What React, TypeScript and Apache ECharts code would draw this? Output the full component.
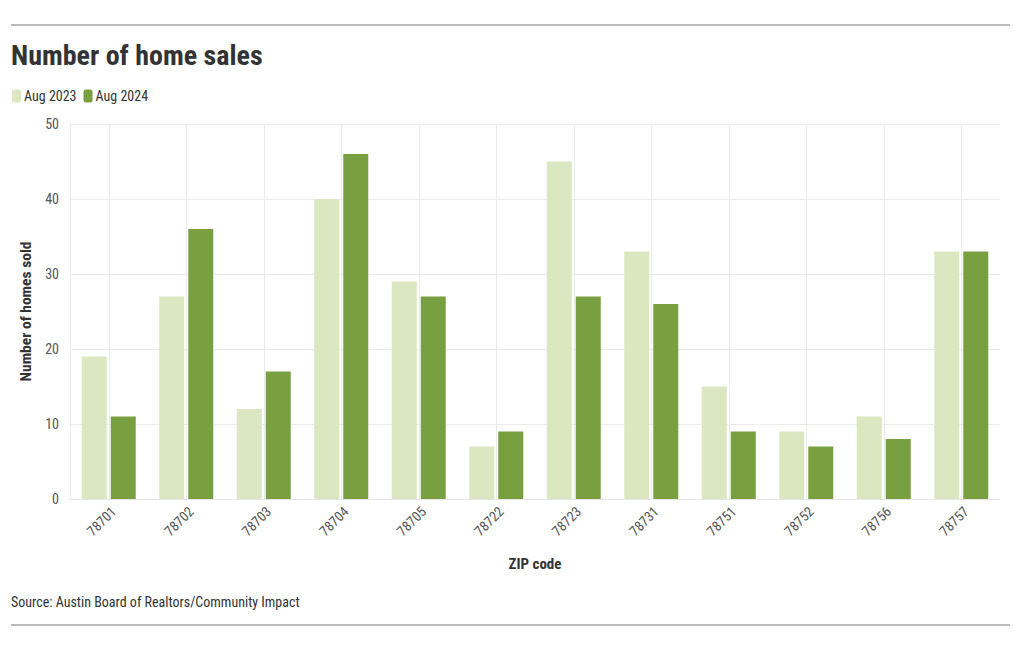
import React, { useEffect, useRef } from "react";
import * as echarts from "echarts";

const zipCodes = ["78701", "78702", "78703", "78704", "78705", "78722", "78723", "78731", "78751", "78752", "78756", "78757"];
const aug2023 = [19, 27, 12, 40, 29, 7, 45, 33, 15, 9, 11, 33];
const aug2024 = [11, 36, 17, 46, 27, 9, 27, 26, 9, 7, 8, 33];
const seriesNames = ["Aug 2023", "Aug 2024"];
const yTicks = { min: 0, max: 50, interval: 10 };

// helper positions for vertical gridlines through each category centre (half-band steps)
const halfBandSlots = Array.from({ length: zipCodes.length * 2 + 1 }, (_, i) => String(i));

const FONT = "'Roboto Condensed', 'Liberation Sans Narrow', 'DejaVu Sans Condensed', Roboto, sans-serif";

export default function App() {
  const ref = useRef<HTMLDivElement>(null);
  useEffect(() => {
    if (!ref.current) return;
    const chart = echarts.init(ref.current, undefined, { renderer: "svg" });
    chart.setOption({
      animation: false,
      backgroundColor: "#ffffff",
      textStyle: { fontFamily: FONT },
      title: {
        text: "Number of home sales",
        left: 11,
        top: 41,
        padding: 0,
        textStyle: { fontFamily: FONT, fontSize: 28, fontWeight: "bold", color: "#333333" },
      },
      legend: {
        left: 12,
        top: 89,
        padding: 0,
        icon: "roundRect",
        itemWidth: 9,
        itemHeight: 13,
        itemGap: 7,
        textStyle: { fontFamily: FONT, fontSize: 14, color: "#333333", padding: [0, 0, 0, -2] },
        data: seriesNames,
      },
      grid: { left: 70, right: 20, top: 124, bottom: 151, containLabel: false },
      xAxis: [
        {
          type: "category",
          data: zipCodes,
          name: "ZIP code",
          nameLocation: "middle",
          nameGap: 57,
          nameTextStyle: { fontFamily: FONT, fontSize: 15, fontWeight: "bold", color: "#333333" },
          axisLine: { show: true, lineStyle: { color: "#e6e6e6" } },
          axisTick: { show: false },
          splitLine: { show: false },
          axisLabel: { rotate: 45, margin: 5, verticalAlign: "top", fontFamily: FONT, fontSize: 14, color: "#555555" },
          z: 3,
        },
        {
          type: "category",
          data: halfBandSlots,
          boundaryGap: false,
          position: "bottom",
          axisLine: { show: false },
          axisTick: { show: false },
          axisLabel: { show: false },
          splitLine: {
            show: true,
            interval: (index: number) => index === 0 || index % 2 === 1,
            lineStyle: { color: "#ebebeb" },
          },
        },
      ],
      yAxis: {
        type: "value",
        min: yTicks.min,
        max: yTicks.max,
        interval: yTicks.interval,
        name: "Number of homes sold",
        nameLocation: "middle",
        nameGap: 35,
        nameTextStyle: { fontFamily: FONT, fontSize: 15.5, fontWeight: "bold", color: "#333333" },
        axisLine: { show: false },
        axisTick: { show: false },
        axisLabel: { margin: 11, fontFamily: FONT, fontSize: 14, color: "#555555" },
        splitLine: { show: true, lineStyle: { color: "#ebebeb" } },
      },
      series: [
        {
          name: seriesNames[0],
          type: "bar",
          xAxisIndex: 0,
          data: aug2023,
          barWidth: 25,
          barGap: "16%",
          itemStyle: { color: "#dae7c1" },
        },
        {
          name: seriesNames[1],
          type: "bar",
          xAxisIndex: 0,
          data: aug2024,
          barWidth: 25,
          barGap: "16%",
          itemStyle: { color: "#78a041" },
        },
      ],
      graphic: [
        { type: "line", shape: { x1: 11, y1: 25, x2: 1010, y2: 25 }, style: { stroke: "#777777", lineWidth: 1 } },
        { type: "line", shape: { x1: 11, y1: 625, x2: 1010, y2: 625 }, style: { stroke: "#777777", lineWidth: 1 } },
        {
          type: "text",
          left: 11,
          top: 595,
          style: { text: "Source: Austin Board of Realtors/Community Impact", fontFamily: FONT, fontSize: 14, fill: "#333333" },
        },
      ],
    });
    return () => chart.dispose();
  }, []);
  return <div ref={ref} style={{ position: "fixed", left: 0, top: 0, width: 1020, height: 650 }} />;
}
